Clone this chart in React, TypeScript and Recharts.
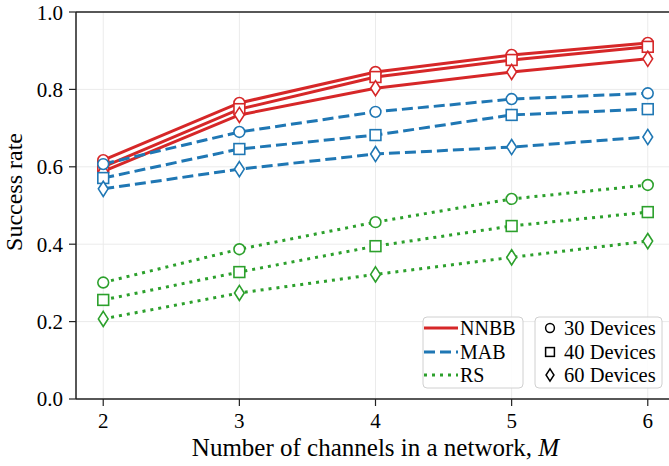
import { CartesianGrid, Line, LineChart, ReferenceLine, XAxis, YAxis } from "recharts";

const channels = [2, 3, 4, 5, 6];
const nnbb30 = [0.617, 0.765, 0.845, 0.889, 0.92];
const nnbb40 = [0.6, 0.749, 0.832, 0.876, 0.91];
const nnbb60 = [0.588, 0.734, 0.803, 0.845, 0.879];
const mab30 = [0.607, 0.69, 0.742, 0.775, 0.79];
const mab40 = [0.571, 0.646, 0.682, 0.734, 0.749];
const mab60 = [0.543, 0.594, 0.633, 0.651, 0.677];
const rs30 = [0.301, 0.387, 0.457, 0.517, 0.553];
const rs40 = [0.256, 0.328, 0.395, 0.447, 0.483];
const rs60 = [0.207, 0.274, 0.322, 0.366, 0.408];

const xTicks = [2, 3, 4, 5, 6];
const yTicks = [0, 0.2, 0.4, 0.6, 0.8, 1.0];

const RED = "#d62728";
const BLUE = "#1f77b4";
const GREEN = "#2ca02c";
const FONT = "Liberation Serif, Tinos, Times New Roman, serif";

const data = channels.map((m, i) => ({
  m,
  nnbb30: nnbb30[i],
  nnbb40: nnbb40[i],
  nnbb60: nnbb60[i],
  mab30: mab30[i],
  mab40: mab40[i],
  mab60: mab60[i],
  rs30: rs30[i],
  rs40: rs40[i],
  rs60: rs60[i],
}));

type Shape = "circle" | "square" | "diamond";

function Marker({ shape, x, y, color, r = 5.4, sw = 1.6 }: { shape: Shape; x: number; y: number; color: string; r?: number; sw?: number }) {
  if (shape === "circle") {
    return <circle cx={x} cy={y} r={r} fill="#fff" stroke={color} strokeWidth={sw} />;
  }
  if (shape === "square") {
    return <rect x={x - r} y={y - r} width={2 * r} height={2 * r} fill="#fff" stroke={color} strokeWidth={sw} />;
  }
  const w = r * 0.9;
  const h = r * 1.4;
  return (
    <path
      d={`M${x},${y - h} L${x + w},${y} L${x},${y + h} L${x - w},${y} Z`}
      fill="#fff"
      stroke={color}
      strokeWidth={sw}
    />
  );
}

const series: { key: string; color: string; dash?: string; shape: Shape }[] = [
  { key: "nnbb30", color: RED, shape: "circle" },
  { key: "nnbb40", color: RED, shape: "square" },
  { key: "nnbb60", color: RED, shape: "diamond" },
  { key: "mab30", color: BLUE, dash: "11 5", shape: "circle" },
  { key: "mab40", color: BLUE, dash: "11 5", shape: "square" },
  { key: "mab60", color: BLUE, dash: "11 5", shape: "diamond" },
  { key: "rs30", color: GREEN, dash: "3 5", shape: "circle" },
  { key: "rs40", color: GREEN, dash: "3 5", shape: "square" },
  { key: "rs60", color: GREEN, dash: "3 5", shape: "diamond" },
];

const tickStyle = { fill: "#000", fontSize: 21, fontFamily: FONT, style: { fontFamily: FONT } };

function LegendBoxes() {
  const lines = [
    { label: "NNBB", color: RED, dash: undefined, y: 328 },
    { label: "MAB", color: BLUE, dash: "11 5", y: 352 },
    { label: "RS", color: GREEN, dash: "3 5", y: 375 },
  ];
  const marks: { label: string; shape: Shape; y: number }[] = [
    { label: "30 Devices", shape: "circle", y: 328 },
    { label: "40 Devices", shape: "square", y: 352 },
    { label: "60 Devices", shape: "diamond", y: 375 },
  ];
  return (
    <svg width={669} height={466} style={{ position: "absolute", left: 0, top: 0, pointerEvents: "none", fontFamily: FONT }}>
      <rect x={423} y={317} width={100} height={71} rx={4} fill="rgba(255,255,255,0.85)" stroke="#d0d0d0" strokeWidth={1} />
      <rect x={535} y={317} width={127} height={71} rx={4} fill="rgba(255,255,255,0.85)" stroke="#d0d0d0" strokeWidth={1} />
      {lines.map((l) => (
        <g key={l.label}>
          <line x1={424} x2={458} y1={l.y} y2={l.y} stroke={l.color} strokeWidth={3} strokeDasharray={l.dash} />
          <text x={460} y={l.y} dominantBaseline="central" fontSize={20} style={{ fontFamily: FONT }} fill="#000">
            {l.label}
          </text>
        </g>
      ))}
      {marks.map((m) => (
        <g key={m.label}>
          <Marker shape={m.shape} x={550} y={m.y} color="#000" r={4.4} sw={1.5} />
          <text x={564} y={m.y} dominantBaseline="central" fontSize={20.5} style={{ fontFamily: FONT }} fill="#000">
            {m.label}
          </text>
        </g>
      ))}
    </svg>
  );
}

export default function App() {
  return (
    <div style={{ position: "fixed", left: 0, top: 0, width: 669, height: 466, overflow: "hidden", background: "#fff", fontFamily: FONT }}>
      <LineChart width={680} height={466} data={data} margin={{ top: 12, right: 5, bottom: 37, left: 26 }} style={{ fontFamily: FONT }}>
        <CartesianGrid stroke="#ebebeb" strokeWidth={1} />
        <XAxis
          dataKey="m"
          type="number"
          domain={[1.8, 6.2]}
          ticks={xTicks}
          tick={tickStyle}
          tickSize={7}
          tickMargin={7}
          height={30}
          axisLine={{ stroke: "#222", strokeWidth: 1.5 }}
          tickLine={{ stroke: "#222", strokeWidth: 1.2 }}
          label={{
            content: ({ viewBox }: any) => (
              <text x={viewBox.x + viewBox.width / 2} y={456} textAnchor="middle" fontSize={25} style={{ fontFamily: FONT }} fill="#000">
                Number of channels in a network, <tspan fontStyle="italic">M</tspan>
              </text>
            ),
          }}
        />
        <YAxis
          type="number"
          domain={[0, 1]}
          ticks={yTicks}
          tickFormatter={(v: number) => v.toFixed(1)}
          tick={tickStyle}
          tickSize={7}
          tickMargin={6}
          width={50}
          axisLine={{ stroke: "#222", strokeWidth: 1.5 }}
          tickLine={{ stroke: "#222", strokeWidth: 1.2 }}
          label={{
            content: () => (
              <text x={22} y={192} transform="rotate(-90, 22, 192)" textAnchor="middle" fontSize={24} style={{ fontFamily: FONT }} fill="#000">
                Success rate
              </text>
            ),
          }}
        />
        <ReferenceLine y={1} stroke="#222" strokeWidth={1.5} />
        <ReferenceLine x={6.2} stroke="#222" strokeWidth={1.5} />
        {series.map((s) => (
          <Line
            key={s.key}
            dataKey={s.key}
            type="linear"
            stroke={s.color}
            strokeWidth={3}
            strokeDasharray={s.dash}
            isAnimationActive={false}
            dot={(p: any) => <Marker key={`${s.key}-${p.index}`} shape={s.shape} x={p.cx} y={p.cy} color={s.color} />}
            activeDot={false}
          />
        ))}
      </LineChart>
      <LegendBoxes />
    </div>
  );
}
